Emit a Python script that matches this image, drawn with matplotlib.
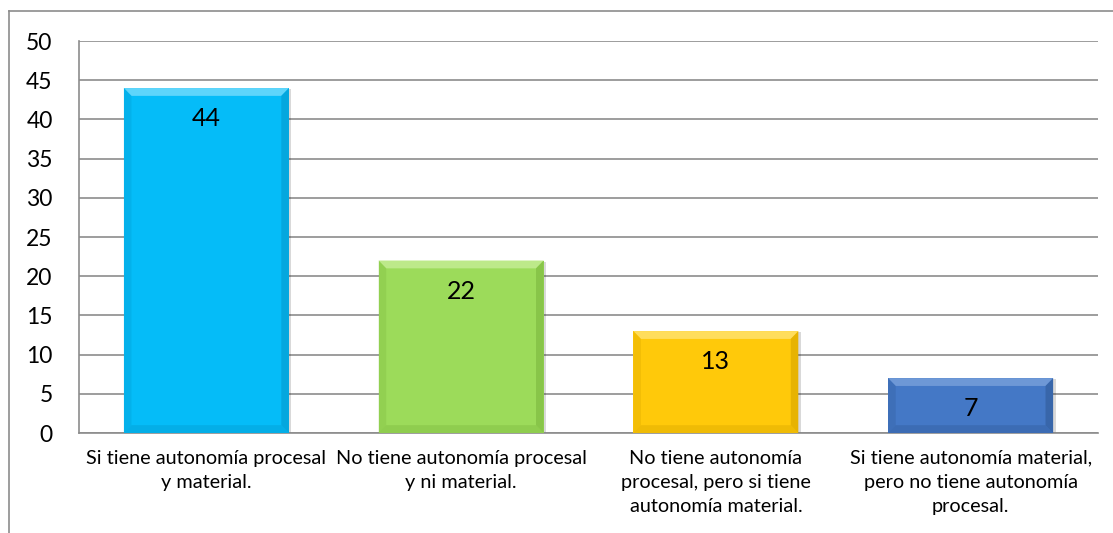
import matplotlib.pyplot as plt
from matplotlib.patches import Polygon, Rectangle
from matplotlib.lines import Line2D

categories = [
    "Si tiene autonomía procesal\ny material.",
    "No tiene autonomía procesal\ny ni material.",
    "No tiene autonomía\nprocesal, pero si tiene\nautonomía material.",
    "Si tiene autonomía material,\npero no tiene autonomía\nprocesal.",
]
values = [44, 22, 13, 7]
face_colors = ["#05BCF8", "#9CDB5A", "#FFC90A", "#4478C6"]
light_colors = ["#5ED5FB", "#BDE98A", "#FFDD5C", "#6E98D6"]
dark_colors = ["#049FD3", "#80BC42", "#DDAA00", "#335F9F"]
y_ticks = list(range(0, 55, 5))

plt.rcParams["font.family"] = ["Lato", "DejaVu Sans"]

fig = plt.figure(figsize=(11.13, 5.33), dpi=100)
ax = fig.add_axes([79 / 1113, 100 / 533, 1019 / 1113, 392 / 533])

width = 0.648
x = list(range(len(values)))
bars = ax.bar(x, values, width=width, color=face_colors, zorder=3, linewidth=0)

# bevel edges and a soft drop shadow around each bar
bx, by = 0.03, 1.0
for rect, light, dark in zip(bars, light_colors, dark_colors):
    x0, w, h = rect.get_x(), rect.get_width(), rect.get_height()
    x1 = x0 + w
    ax.add_patch(Rectangle((x0 + 0.01, -0.15), w, h, color="#000000",
                           alpha=0.15, zorder=2, linewidth=0))
    ax.add_patch(Polygon([(x0, h), (x1, h), (x1 - bx, h - by), (x0 + bx, h - by)],
                         closed=True, color=light, zorder=4, linewidth=0))
    ax.add_patch(Polygon([(x0, 0), (x0, h), (x0 + bx, h - by), (x0 + bx, by)],
                         closed=True, color=dark, alpha=0.35, zorder=4, linewidth=0))
    ax.add_patch(Polygon([(x1, 0), (x1, h), (x1 - bx, h - by), (x1 - bx, by)],
                         closed=True, color=dark, alpha=0.7, zorder=4, linewidth=0))
    ax.add_patch(Polygon([(x0, 0), (x1, 0), (x1 - bx, by), (x0 + bx, by)],
                         closed=True, color=dark, alpha=0.45, zorder=4, linewidth=0))
    ax.annotate(f"{h:g}", (x0 + w / 2, h), xytext=(0, -22), textcoords="offset points",
                ha="center", va="center", fontsize=18, zorder=5)

ax.set_xlim(-0.5, len(values) - 0.5)
ax.set_ylim(0, 50)
ax.set_yticks(y_ticks)
ax.set_xticks(x)
ax.set_xticklabels(categories, fontsize=14.3, linespacing=1.5)
ax.tick_params(axis="y", length=0, pad=19, labelsize=16.5)
ax.tick_params(axis="x", length=0, pad=12)
ax.yaxis.grid(True, color="#8C8C8C", linewidth=1.2, zorder=0)
ax.set_axisbelow(True)
for side in ["top", "right"]:
    ax.spines[side].set_visible(False)
for side in ["left", "bottom"]:
    ax.spines[side].set_color("#8C8C8C")
    ax.spines[side].set_linewidth(1.2)

# outer chart frame
fig.add_artist(Line2D([9 / 1113, 1], [1 - 11 / 533, 1 - 11 / 533],
                      transform=fig.transFigure, color="#8C8C8C", linewidth=1.2))
fig.add_artist(Line2D([9 / 1113, 9 / 1113], [0, 1 - 11 / 533],
                      transform=fig.transFigure, color="#8C8C8C", linewidth=1.2))

fig.savefig("out.png", dpi=100)
